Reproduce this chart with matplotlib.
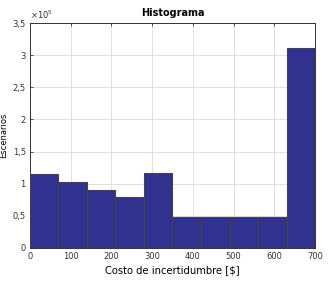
import matplotlib
matplotlib.use('Agg')
import matplotlib.pyplot as plt
import matplotlib.ticker as mticker
import numpy as np

bin_edges = [0, 70, 140, 210, 280, 350, 420, 490, 560, 630, 700]
counts = [1.15e5, 1.03e5, 0.90e5, 0.79e5, 1.16e5, 0.48e5, 0.48e5, 0.48e5, 0.48e5, 3.12e5]
yticks = [0, 0.5, 1, 1.5, 2, 2.5, 3, 3.5]
xticks = [0, 100, 200, 300, 400, 500, 600, 700]

plt.rcParams['font.family'] = 'DejaVu Sans'
fig = plt.figure(figsize=(3.33, 2.82), dpi=100)
ax = fig.add_axes([0.09, 0.121, 0.856, 0.797])

widths = np.diff(bin_edges)
ax.bar(bin_edges[:-1], counts, width=widths, align='edge',
       color='#31318f', edgecolor='#444444', linewidth=0.8, zorder=3)

ax.set_xlim(0, 700)
ax.set_ylim(0, 3.5e5)
ax.set_xticks(xticks)
ax.set_yticks([v * 1e5 for v in yticks])
ax.yaxis.set_major_formatter(mticker.FuncFormatter(
    lambda v, p: ('%g' % (v / 1e5)).replace('.', ',')))
ax.tick_params(direction='in', labelsize=6, length=2.5, width=0.6,
               colors='#333333', top=True, right=True, pad=3)
ax.grid(True, color='#e0e0e0', linewidth=0.7, zorder=0)
for s in ax.spines.values():
    s.set_linewidth(0.7)
    s.set_color('#333333')

ax.text(0, 1.01, r'$\times10^5$', transform=ax.transAxes, fontsize=6,
        color='#333333', va='bottom', ha='left')
ax.set_title('Histograma', fontsize=7, fontweight='bold', pad=5)
ax.set_xlabel(r'Costo de incertidumbre [\$]', fontsize=7.2, labelpad=3)
ax.set_ylabel('Escenarios', fontsize=6)
ax.yaxis.set_label_coords(-0.077, 0.5)

fig.savefig('out.png', dpi=100)
